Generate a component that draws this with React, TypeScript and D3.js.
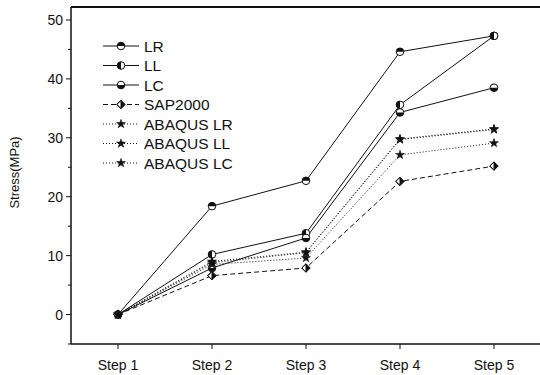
import React from "react";
import * as d3 from "d3";

const steps = ["Step 1", "Step 2", "Step 3", "Step 4", "Step 5"];
const yTicks = [0, 10, 20, 30, 40, 50];
const yMinorTicks = [-5, 5, 15, 25, 35, 45];
const seriesNames = ["LR", "LL", "LC", "SAP2000", "ABAQUS LR", "ABAQUS LL", "ABAQUS LC"];
const lrValues = [0, 18.4, 22.7, 44.6, 47.3];
const llValues = [0, 10.2, 13.8, 35.6, 47.3];
const lcValues = [0, 7.9, 13.0, 34.3, 38.5];
const sapValues = [0, 6.6, 7.9, 22.6, 25.2];
const abaqusLrValues = [0, 9.0, 10.6, 29.8, 31.5];
const abaqusLlValues = [0, 8.5, 9.6, 27.1, 29.1];
const abaqusLcValues = [0, 8.8, 10.5, 29.7, 31.4];

type Kind = "top" | "left" | "bottom" | "diamond" | "star";
const seriesData = [
  { name: seriesNames[0], values: lrValues, dash: "", kind: "top" as Kind },
  { name: seriesNames[1], values: llValues, dash: "", kind: "left" as Kind },
  { name: seriesNames[2], values: lcValues, dash: "", kind: "bottom" as Kind },
  { name: seriesNames[3], values: sapValues, dash: "5,3", kind: "diamond" as Kind },
  { name: seriesNames[4], values: abaqusLrValues, dash: "1,2", kind: "star" as Kind },
  { name: seriesNames[5], values: abaqusLlValues, dash: "1,2", kind: "star" as Kind },
  { name: seriesNames[6], values: abaqusLcValues, dash: "1,2", kind: "star" as Kind },
];

const L = 71, T = 7, R = 541, B = 344;
const x = d3.scaleLinear().domain([0.5, 5.5]).range([L, R]);
const y = d3.scaleLinear().domain([-5, 52.2]).range([B, T]);

function Marker({ cx, cy, kind }: { cx: number; cy: number; kind: Kind }) {
  const r = 3.8;
  if (kind === "star") {
    const sym = d3.symbol().type(d3.symbolStar).size(24)();
    return <path d={sym || ""} transform={`translate(${cx},${cy})`} fill="#111" stroke="#111" strokeWidth={0.6} />;
  }
  if (kind === "diamond") {
    const s = 4.2;
    return (
      <g transform={`translate(${cx},${cy})`}>
        <path d={`M0,${-s}L${s},0L0,${s}Z`} fill="#111" />
        <path d={`M0,${-s}L${-s},0L0,${s}Z`} fill="#fff" stroke="#111" strokeWidth={1} />
        <path d={`M0,${-s}L${s},0L0,${s}L${-s},0Z`} fill="none" stroke="#111" strokeWidth={1} />
      </g>
    );
  }
  let half = "";
  if (kind === "top") half = `M${-r},0A${r},${r} 0 0 1 ${r},0Z`;
  if (kind === "bottom") half = `M${-r},0A${r},${r} 0 0 0 ${r},0Z`;
  if (kind === "left") half = `M0,${-r}A${r},${r} 0 0 0 0,${r}Z`;
  return (
    <g transform={`translate(${cx},${cy})`}>
      <circle r={r} fill="#fff" stroke="#111" strokeWidth={1} />
      <path d={half} fill="#111" />
    </g>
  );
}

export default function App() {
  const line = d3
    .line<number>()
    .x((_, i) => x(i + 1))
    .y((d) => y(d));
  const font = "'Liberation Sans', Arial, sans-serif";
  return (
    <svg width={540} height={375} style={{ position: "absolute", left: 0, top: 0, background: "#fff" }} fontFamily={font}>
      <rect width={540} height={375} fill="#fff" />
      <line x1={L} x2={R} y1={T} y2={T} stroke="#111" strokeWidth={2} />
      <line x1={L} x2={R} y1={B} y2={B} stroke="#111" strokeWidth={1.5} />
      <line x1={L} x2={L} y1={T} y2={B} stroke="#111" strokeWidth={1.5} />
      {yTicks.map((t) => (
        <g key={t}>
          <line x1={L - 5} x2={L} y1={y(t)} y2={y(t)} stroke="#111" strokeWidth={1} />
          <text x={L - 8} y={y(t) + 5} textAnchor="end" fontSize={14} fill="#111">
            {t}
          </text>
        </g>
      ))}
      {yMinorTicks.map((t) => (
        <line key={t} x1={L - 3} x2={L} y1={y(t)} y2={y(t)} stroke="#111" strokeWidth={1} />
      ))}
      {steps.map((s, i) => (
        <g key={s}>
          <line x1={x(i + 1)} x2={x(i + 1)} y1={B} y2={B + 5} stroke="#111" strokeWidth={1} />
          <text x={x(i + 1)} y={370} textAnchor="middle" fontSize={14} fill="#111">
            {s}
          </text>
        </g>
      ))}
      <text transform={`translate(19,${(T + B) / 2 - 3}) rotate(-90)`} textAnchor="middle" fontSize={13} fill="#111">
        Stress(MPa)
      </text>
      {seriesData.map((s) => (
        <path key={s.name} d={line(s.values) || ""} fill="none" stroke="#111" strokeWidth={1} strokeDasharray={s.dash || undefined} />
      ))}
      {seriesData.map((s) =>
        s.values.map((v, i) => <Marker key={s.name + i} cx={x(i + 1)} cy={y(v)} kind={s.kind} />)
      )}
      {seriesData.map((s, i) => {
        const ly = 46 + i * 19.5;
        return (
          <g key={"lg" + s.name}>
            <line x1={103} x2={139} y1={ly} y2={ly} stroke="#111" strokeWidth={1} strokeDasharray={s.dash || undefined} />
            <Marker cx={121} cy={ly} kind={s.kind} />
            <text x={144} y={ly + 5.5} fontSize={15.5} fill="#111">
              {s.name}
            </text>
          </g>
        );
      })}
    </svg>
  );
}
